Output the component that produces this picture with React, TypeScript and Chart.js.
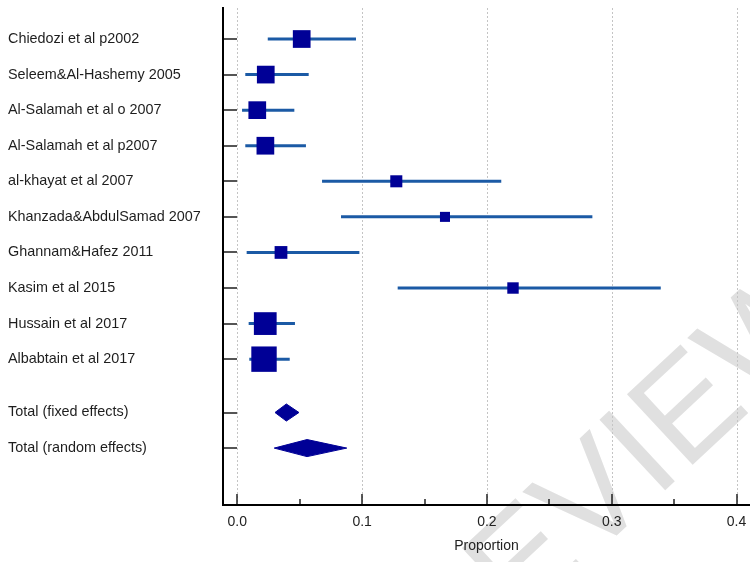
import React, { useEffect, useRef } from 'react';
import { Chart, registerables } from 'chart.js';

Chart.register(...registerables);

// ---------- data ----------
const studies = [
  'Chiedozi et al p2002',
  'Seleem&Al-Hashemy 2005',
  'Al-Salamah et al o 2007',
  'Al-Salamah et al p2007',
  'al-khayat et al 2007',
  'Khanzada&AbdulSamad 2007',
  'Ghannam&Hafez 2011',
  'Kasim et al 2015',
  'Hussain et al 2017',
  'Albabtain et al 2017',
];
const estimates = [0.0516, 0.0228, 0.016, 0.0225, 0.1274, 0.1664, 0.035, 0.2209, 0.0224, 0.0214];
const lowerCI = [0.0244, 0.0064, 0.0038, 0.0064, 0.0679, 0.0831, 0.0075, 0.1285, 0.0091, 0.0096];
const upperCI = [0.0951, 0.0572, 0.0457, 0.055, 0.2115, 0.2845, 0.0978, 0.3393, 0.0462, 0.042];
const weights = [10.6, 10.6, 10.6, 10.6, 4.9, 3.4, 5.5, 4.4, 17.5, 21.8];

const totalLabels = ['Total (fixed effects)', 'Total (random effects)'];
const totalEstimates = [0.0393, 0.0559];
const totalLower = [0.0302, 0.0296];
const totalUpper = [0.0494, 0.0877];

const xTicks = [0, 0.1, 0.2, 0.3, 0.4];
const xMinorTicks = [0.05, 0.15, 0.25, 0.35];
const xTitle = 'Proportion';
const watermarkText = 'PREVIEW';

// ---------- styles ----------
const NAVY = '#000096';
const CI_BLUE = '#1b5aa5';
const FONT = "'Liberation Sans', Arial, Helvetica, sans-serif";

const studyRows = studies.map((_, i) => i + 1);
const totalRows = totalLabels.map((_, j) => studies.length + 1.5 + j);
const allRows = [...studyRows, ...totalRows];
const allLabels = [...studies, ...totalLabels];

const forestPlugin = {
  id: 'forestDecor',
  beforeDraw(chart: any) {
    const { ctx } = chart;
    ctx.save();
    ctx.translate(377, 759);
    ctx.rotate((-43 * Math.PI) / 180);
    ctx.font = `140px ${FONT}`;
    ctx.fillStyle = '#e0e0e0';
    ctx.textBaseline = 'alphabetic';
    ctx.fillText(watermarkText, 0, 0);
    ctx.restore();
  },
  beforeDatasetsDraw(chart: any) {
    const { ctx, chartArea, scales } = chart;
    const xs = scales.x;
    ctx.save();
    ctx.strokeStyle = '#c4c4c4';
    ctx.lineWidth = 1;
    ctx.setLineDash([2, 2]);
    xTicks.forEach((v) => {
      const x = Math.round(xs.getPixelForValue(v)) + 0.5;
      ctx.beginPath();
      ctx.moveTo(x, chartArea.top + 1);
      ctx.lineTo(x, chartArea.bottom);
      ctx.stroke();
    });
    ctx.restore();
  },
  afterDatasetsDraw(chart: any) {
    const { ctx, chartArea, scales } = chart;
    const xs = scales.x;
    const ys = scales.y;
    ctx.save();
    // y tick marks (inward)
    ctx.strokeStyle = '#555555';
    ctx.lineWidth = 2;
    allRows.forEach((r) => {
      const y = Math.round(ys.getPixelForValue(r));
      ctx.beginPath();
      ctx.moveTo(chartArea.left, y);
      ctx.lineTo(chartArea.left + 14, y);
      ctx.stroke();
    });
    // x tick marks (inward)
    ctx.strokeStyle = '#222222';
    ctx.lineWidth = 1.5;
    xTicks.forEach((v) => {
      const x = Math.round(xs.getPixelForValue(v));
      ctx.beginPath();
      ctx.moveTo(x, chartArea.bottom);
      ctx.lineTo(x, chartArea.bottom - 11);
      ctx.stroke();
    });
    xMinorTicks.forEach((v) => {
      const x = Math.round(xs.getPixelForValue(v));
      ctx.beginPath();
      ctx.moveTo(x, chartArea.bottom);
      ctx.lineTo(x, chartArea.bottom - 6);
      ctx.stroke();
    });
    // axis lines
    ctx.strokeStyle = '#000000';
    ctx.lineWidth = 2;
    ctx.beginPath();
    ctx.moveTo(chartArea.left, chartArea.top);
    ctx.lineTo(chartArea.left, chartArea.bottom);
    ctx.lineTo(chartArea.right, chartArea.bottom);
    ctx.stroke();
    ctx.restore();
  },
};

export default function App() {
  const ref = useRef<HTMLCanvasElement>(null);

  useEffect(() => {
    document.body.style.margin = '0';
    Chart.defaults.font.family = FONT;

    const squareData = estimates.map((x, i) => ({ x, y: studyRows[i] }));
    const squareRadius = weights.map((w) => (Math.sqrt(w) * 5.44) / Math.SQRT2);

    const ciSets = studies.map((_, i) => ({
      type: 'scatter' as const,
      data: [
        { x: lowerCI[i], y: studyRows[i] },
        { x: upperCI[i], y: studyRows[i] },
      ],
      showLine: true,
      borderColor: CI_BLUE,
      borderWidth: 3,
      pointRadius: 0,
      order: 2,
    }));

    const half = 0.24;
    const diamondSets = totalLabels.map((_, j) => ({
      type: 'scatter' as const,
      data: [
        { x: totalLower[j], y: totalRows[j] },
        { x: totalEstimates[j], y: totalRows[j] - half },
        { x: totalUpper[j], y: totalRows[j] },
        { x: totalEstimates[j], y: totalRows[j] + half },
        { x: totalLower[j], y: totalRows[j] },
      ],
      showLine: true,
      fill: 'shape',
      backgroundColor: NAVY,
      borderColor: NAVY,
      borderWidth: 1,
      pointRadius: 0,
      order: 1,
    }));

    const chart = new Chart(ref.current!, {
      type: 'scatter',
      data: {
        datasets: [
          {
            data: squareData,
            pointStyle: 'rect',
            pointRadius: squareRadius,
            backgroundColor: NAVY,
            borderColor: NAVY,
            borderWidth: 0,
            order: 0,
          } as any,
          ...ciSets,
          ...diamondSets,
        ],
      },
      options: {
        responsive: false,
        animation: false,
        layout: { autoPadding: false, padding: { left: 8, top: 7, right: 0, bottom: 0 } },
        plugins: {
          legend: { display: false },
          tooltip: { enabled: false },
        },
        scales: {
          x: {
            type: 'linear',
            min: -0.01146,
            max: 0.4108,
            grid: { display: false, drawTicks: false },
            border: { display: false },
            afterBuildTicks: (s: any) => {
              s.ticks = xTicks.map((v) => ({ value: v }));
            },
            afterFit: (s: any) => {
              s.height = 57;
              s.paddingLeft = 0;
              s.paddingRight = 0;
            },
            ticks: {
              padding: 9,
              color: '#222222',
              font: { size: 14, family: FONT },
              callback: (v: any) => Number(v).toFixed(1),
              maxRotation: 0,
            },
            title: {
              display: true,
              text: xTitle,
              color: '#222222',
              font: { size: 14, family: FONT },
              padding: { top: 0, bottom: 7 },
            },
          },
          y: {
            type: 'linear',
            reverse: true,
            min: 0.1,
            max: 14.1,
            grid: { display: false, drawTicks: false },
            border: { display: false },
            afterBuildTicks: (s: any) => {
              s.ticks = allRows.map((v) => ({ value: v }));
            },
            afterFit: (s: any) => {
              s.width = 215;
              s.paddingTop = 0;
              s.paddingBottom = 0;
            },
            ticks: {
              crossAlign: 'far',
              color: '#1e1e1e',
              font: { size: 14.4, family: FONT },
              callback: (_v: any, i: number) => allLabels[i],
            },
          },
        },
      },
      plugins: [forestPlugin],
    } as any);

    return () => chart.destroy();
  }, []);

  return (
    <div style={{ width: 750, height: 562 }}>
      <canvas ref={ref} width={750} height={562} style={{ display: 'block' }} />
    </div>
  );
}
